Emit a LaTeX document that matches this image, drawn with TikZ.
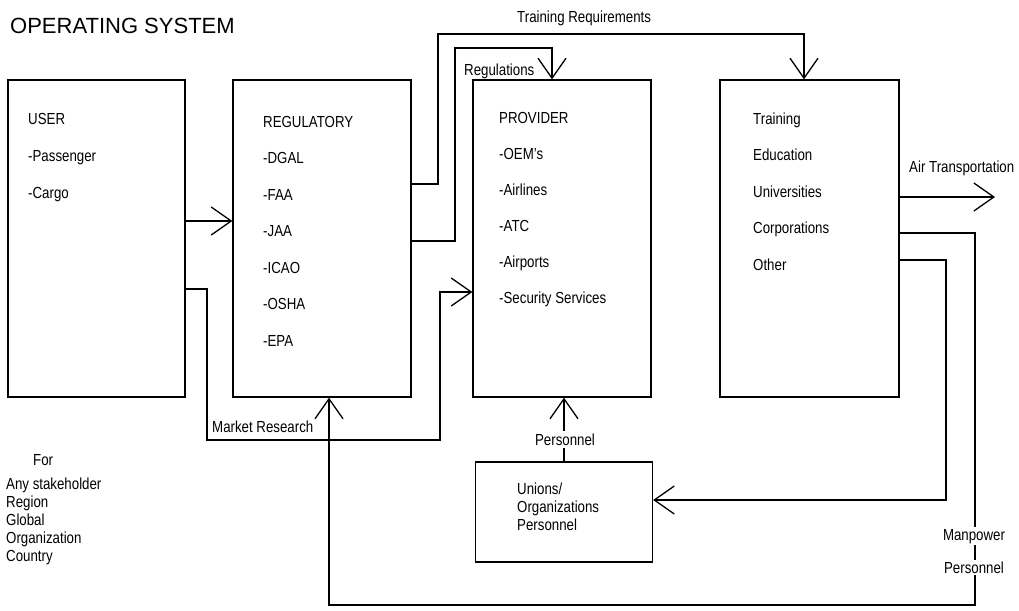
\documentclass[tikz,border=0pt]{standalone}
\usepackage{fontspec}
\setmainfont{Liberation Sans}[FakeStretch=0.83]
\newfontfamily\titlefont{Liberation Sans}
\usetikzlibrary{arrows.meta}
\begin{document}
\begin{tikzpicture}[x=1pt,y=-1pt,
  box/.style={draw,line width=1.3pt,inner sep=0pt},
  txt/.style={inner sep=0pt,anchor=base west,font=\fontsize{16}{18}\selectfont},
  lbl/.style={inner sep=1.5pt,fill=white,anchor=base,font=\fontsize{16}{18}\selectfont},
  conn/.style={line width=1.3pt},
  arr/.style={conn,-{Straight Barb[length=20pt,width=28pt,line width=1.3pt]}}]
\useasboundingbox (0,0) rectangle (1019,610);

% title
\node[inner sep=0pt,anchor=base west,font=\titlefont\fontsize{22}{26}\selectfont] (title) at (10,34) {OPERATING SYSTEM};

% boxes
\node[box,minimum width=177pt,minimum height=317pt] (user) at (96.5,238.5) {};
\node[box,minimum width=178pt,minimum height=317pt] (reg) at (322,238.5) {};
\node[box,minimum width=178pt,minimum height=317pt] (prov) at (562,238.5) {};
\node[box,minimum width=179pt,minimum height=317pt] (train) at (809.5,238.5) {};
\node[box,minimum width=177pt,minimum height=100pt] (unions) at (564,512) {};

% box texts
\node[txt] (u1) at (28,124) {USER};
\node[txt] (u2) at (28,161) {-Passenger};
\node[txt] (u3) at (28,198) {-Cargo};

\node[txt] (r1) at (263,127) {REGULATORY};
\node[txt] (r2) at (263,163.5) {-DGAL};
\node[txt] (r3) at (263,200) {-FAA};
\node[txt] (r4) at (263,236.5) {-JAA};
\node[txt] (r5) at (263,273) {-ICAO};
\node[txt] (r6) at (263,309.5) {-OSHA};
\node[txt] (r7) at (263,346) {-EPA};

\node[txt] (p1) at (499,123) {PROVIDER};
\node[txt] (p2) at (499,159) {-OEM's};
\node[txt] (p3) at (499,195) {-Airlines};
\node[txt] (p4) at (499,231) {-ATC};
\node[txt] (p5) at (499,267) {-Airports};
\node[txt] (p6) at (499,303) {-Security Services};

\node[txt] (t1) at (753,124) {Training};
\node[txt] (t2) at (753,160.5) {Education};
\node[txt] (t3) at (753,197) {Universities};
\node[txt] (t4) at (753,233.5) {Corporations};
\node[txt] (t5) at (753,270) {Other};

\node[txt] (n1) at (517,494) {Unions/};
\node[txt] (n2) at (517,512) {Organizations};
\node[txt] (n3) at (517,530) {Personnel};

\node[txt] (f0) at (33,465) {For};
\node[txt] (f1) at (6,489) {Any stakeholder};
\node[txt] (f2) at (6,507) {Region};
\node[txt] (f3) at (6,525) {Global};
\node[txt] (f4) at (6,543) {Organization};
\node[txt] (f5) at (6,561) {Country};

% connectors
\coordinate (air) at (995,197);
\draw[arr] (user.east |- 0,221) -- (reg.west |- 0,221);
\draw[arr] (user.east |- 0,289) -- (207,289) -- (207,440) -- (440,440) -- (440,292) -- (prov.west |- 0,292);
\draw[arr] (reg.east |- 0,184) -- (438,184) -- (438,34) -- (804,34) -- (train.north -| 804,0);
\draw[arr] (reg.east |- 0,241) -- (455,241) -- (455,48) -- (552,48) -- (prov.north -| 552,0);
\draw[arr] (train.east |- air) -- (air);
\draw[arr] (train.east |- 0,260) -- (946,260) -- (946,500) -- (unions.east |- 0,500);
\draw[arr] (train.east |- 0,233) -- (975,233) -- (975,605) -- (329,605) -- (reg.south -| 329,0);
\draw[arr] (unions.north) -- (unions.north |- prov.south);

% connector labels
\node[txt] (ltr) at (517,23) {Training Requirements};
\node[txt] (lreg) at (464,75) {Regulations};
\node[txt] (lair) at (909,172) {Air Transportation};
\node[txt] (lmr) at (212,432) {Market Research};
\node[lbl,inner sep=2.5pt] (lpers) at (565,445) {Personnel};
\node[lbl] (lman) at (974,540) {Manpower};
\node[lbl] (lpers2) at (974,573) {Personnel};
\end{tikzpicture}
\end{document}
